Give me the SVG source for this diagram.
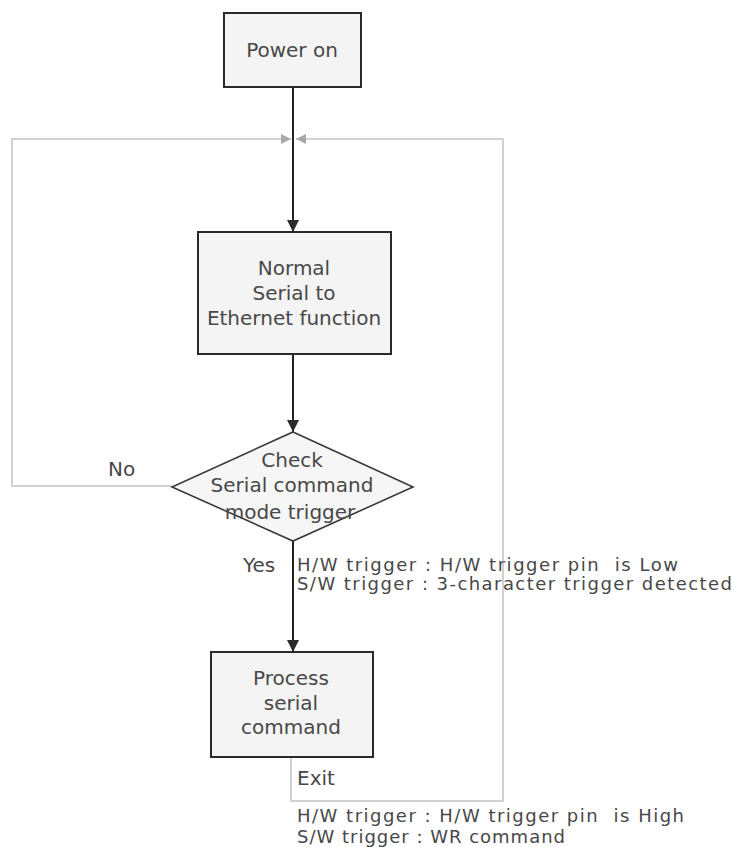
<svg xmlns="http://www.w3.org/2000/svg" width="734" height="847" viewBox="0 0 734 847">
  <style>
    .box { fill: #f4f4f4; stroke: #2a2a2a; stroke-width: 2; }
    .dia { fill: #f6f6f6; stroke: #3a3a3a; stroke-width: 1.6; }
    .flow { fill: none; stroke: #222; stroke-width: 2; }
    .loop { fill: none; stroke: #c4c4c4; stroke-width: 1.5; }
    text { font-family: "DejaVu Sans", Verdana, sans-serif; font-size: 20px; fill: #484848; }
    .c { text-anchor: middle; }
    .note { font-size: 18px; white-space: pre; }
  </style>
  <defs>
    <marker id="arrow" viewBox="0 0 10 10" refX="10" refY="5" markerWidth="16" markerHeight="12" orient="auto" markerUnits="userSpaceOnUse">
      <path d="M0,0 L10,5 L0,10 z" fill="#2a2a2a"/>
    </marker>
    <marker id="arrowGray" viewBox="0 0 10 10" refX="10" refY="5" markerWidth="12" markerHeight="10" orient="auto" markerUnits="userSpaceOnUse">
      <path d="M0,0 L10,5 L0,10 z" fill="#a8a8a8"/>
    </marker>
  </defs>
  <rect width="734" height="847" fill="#ffffff"/>

  <!-- connectors -->
  <g id="connectors">
    <line class="flow" x1="293" y1="87" x2="293" y2="232" marker-end="url(#arrow)"/>
    <line class="flow" x1="293" y1="354" x2="293" y2="432" marker-end="url(#arrow)"/>
    <line class="flow" x1="293" y1="541" x2="293" y2="652" marker-end="url(#arrow)"/>
    <!-- "No" branch back to the top -->
    <polyline class="loop" points="172,486 12,486 12,139 291,139" marker-end="url(#arrowGray)"/>
    <!-- "Exit" branch back to the top -->
    <polyline class="loop" points="291,757 291,801 503,801 503,139 296,139" marker-end="url(#arrowGray)"/>
  </g>

  <g id="power-on">
    <rect class="box" x="224" y="13" width="137" height="74"/>
    <text class="c" x="292" y="57">Power on</text>
  </g>

  <g id="normal-function">
    <rect class="box" x="198" y="232" width="193" height="122"/>
    <text class="c" x="294" y="275">Normal</text>
    <text class="c" x="294" y="300">Serial to</text>
    <text class="c" x="294" y="325">Ethernet function</text>
  </g>

  <g id="check-trigger">
    <polygon class="dia" points="293,432 413,487 293,541 172,487"/>
    <text class="c" x="292" y="467">Check</text>
    <text class="c" x="292" y="492">Serial command</text>
    <text class="c" x="290" y="519">mode trigger</text>
  </g>

  <g id="process-command">
    <rect class="box" x="211" y="652" width="162" height="105"/>
    <text class="c" x="291" y="685">Process</text>
    <text class="c" x="291" y="710">serial</text>
    <text class="c" x="291" y="734">command</text>
  </g>

  <g id="labels">
    <text x="108" y="476">No</text>
    <text x="243" y="572">Yes</text>
    <text class="note" x="297" y="571" textLength="381" xml:space="preserve">H/W trigger : H/W trigger pin  is Low</text>
    <text class="note" x="297" y="590" textLength="435">S/W trigger : 3-character trigger detected</text>
    <text x="297" y="785">Exit</text>
    <text class="note" x="297" y="822" textLength="387" xml:space="preserve">H/W trigger : H/W trigger pin  is High</text>
    <text class="note" x="297" y="843" textLength="268">S/W trigger : WR command</text>
  </g>
</svg>
